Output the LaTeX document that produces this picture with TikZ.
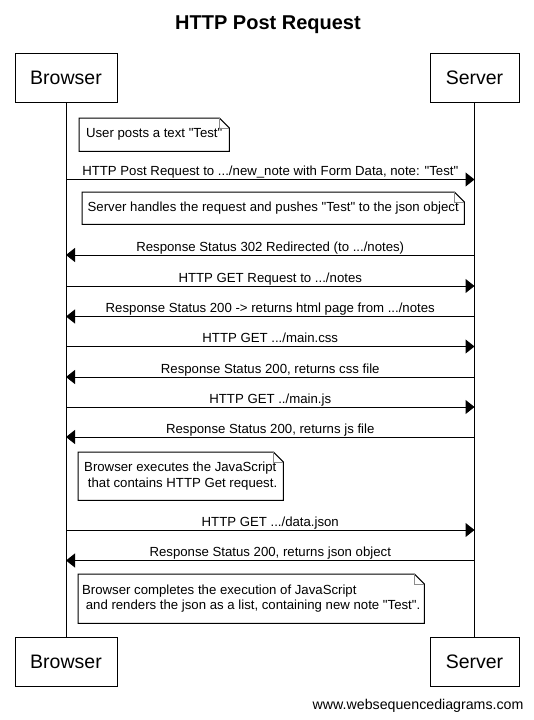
\documentclass[tikz,border=0pt]{standalone}
\usepackage{fontspec}
\setmainfont{Liberation Sans}[Ligatures=TeXOff]
\usetikzlibrary{arrows.meta}
\tikzstyle{actor}=[draw=black,line width=1pt,inner sep=0pt,minimum height=49pt,font=\fontsize{19.5}{23}\selectfont]
\tikzstyle{note}=[anchor=north west,inner sep=0pt,align=left,font=\fontsize{13.2}{15.3}\selectfont]
\tikzstyle{msg}=[line width=1pt,-{Triangle[length=9pt,width=14pt]}]
\tikzstyle{lbl}=[midway,anchor=base,inner sep=0pt,yshift=3.8pt,font=\fontsize{13.2}{16}\selectfont]
% note outline with folded corner
\newcommand{\dognote}[1]{%
  \draw[line width=1pt] (#1.north west) -- ([xshift=-10pt]#1.north east) -- ([yshift=-10pt]#1.north east)
    -- (#1.south east) -- (#1.south west) -- cycle;
  \draw[black!45] ([xshift=-10pt]#1.north east) |- ([yshift=-10pt]#1.north east);}

\begin{document}
\begin{tikzpicture}[x=1pt,y=-1pt]
\useasboundingbox (0,0) rectangle (534,720);
\node[anchor=base,font=\fontsize{20}{24}\selectfont\bfseries] (title) at (268,29) {HTTP Post Request};
% participants
\node[actor,minimum width=102pt] (bt) at (66,77.5) {Browser};
\node[actor,minimum width=89pt] (st) at (474.5,77.5) {Server};
\node[actor,minimum width=102pt] (bb) at (66,661.5) {Browser};
\node[actor,minimum width=89pt] (sb) at (474.5,661.5) {Server};
\draw[line width=1pt] (bt) -- (bb) (st) -- (sb);
% notes
\node[note,minimum width=150pt,minimum height=33pt] (n1) at (79,118) {User posts a text "Test"};
\node[note,minimum width=382pt,minimum height=32pt] (n2) at (82,192) {Server handles the request and pushes "Test" to the json object};
\node[note,minimum width=205pt,minimum height=48pt] (n3) at (78,452) {Browser executes the JavaScript\\\hspace*{0.28em}that contains HTTP Get request.};
\node[note,minimum width=346pt,minimum height=49pt] (n4) at (78,574) {Browser completes the execution of JavaScript\\\hspace*{0.28em}and renders the json as a list, containing new note "Test".};
\foreach \n in {n1,n2,n3,n4} {\dognote{\n}}
% messages
\foreach \i/\y in {1/179.5,2/255,3/286,4/316.5,5/346.5,6/377,7/407,8/437,9/530,10/560.5}
  {\coordinate (b\i) at (bt.center |- 0,\y); \coordinate (s\i) at (st.center |- 0,\y);}
\draw[msg] (b1) -- (s1) node[lbl] {HTTP Post Request to .../new\_note with Form Data, note: "Test"};
\draw[msg] (s2) -- (b2) node[lbl] {Response Status 302 Redirected (to .../notes)};
\draw[msg] (b3) -- (s3) node[lbl] {HTTP GET Request to .../notes};
\draw[msg] (s4) -- (b4) node[lbl] {Response Status 200 -> returns html page from .../notes};
\draw[msg] (b5) -- (s5) node[lbl] {HTTP GET .../main.css};
\draw[msg] (s6) -- (b6) node[lbl] {Response Status 200, returns css file};
\draw[msg] (b7) -- (s7) node[lbl] {HTTP GET ../main.js};
\draw[msg] (s8) -- (b8) node[lbl] {Response Status 200, returns js file};
\draw[msg] (b9) -- (s9) node[lbl] {HTTP GET .../data.json};
\draw[msg] (s10) -- (b10) node[lbl] {Response Status 200, returns json object};
\node[anchor=base east,font=\fontsize{14.2}{16}\selectfont] (url) at (527,709) {www.websequencediagrams.com};
\end{tikzpicture}
\end{document}
